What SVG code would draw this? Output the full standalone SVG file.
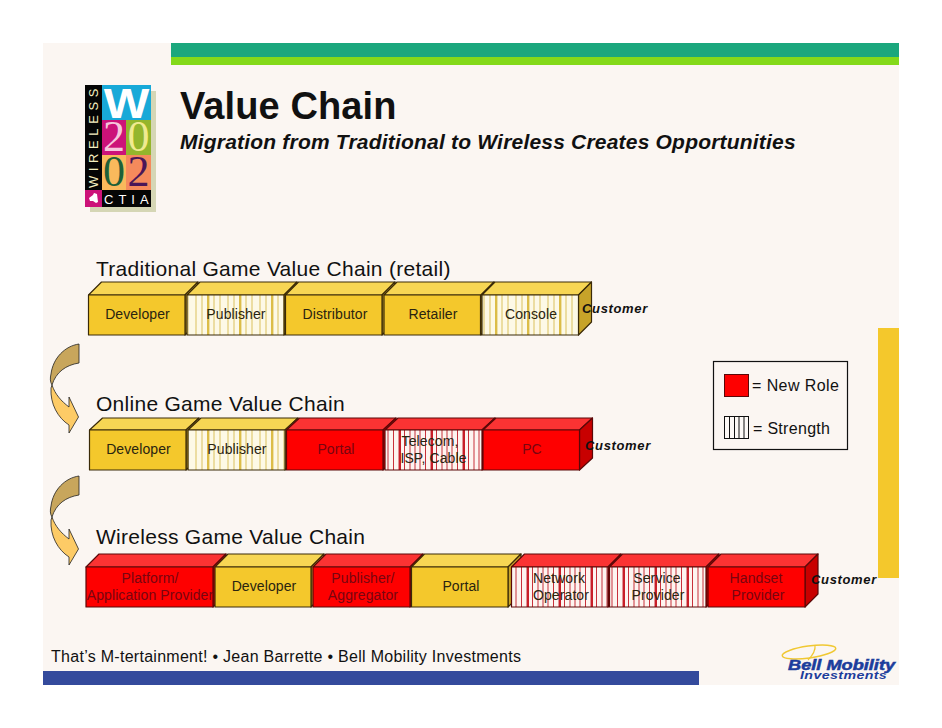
<svg xmlns="http://www.w3.org/2000/svg" width="942" height="728" viewBox="0 0 942 728">
<style>
text{font-family:"Liberation Sans",Arial,sans-serif;fill:#111}
.h{font-size:21px;letter-spacing:.28px}
.l{font-size:14px;text-anchor:middle;letter-spacing:.1px;fill:#2a2410}
.red{fill:#780510}
.c{font-size:13px;font-weight:bold;font-style:italic;letter-spacing:.65px}
.edge{stroke:#3a2a08;stroke-width:1.2;stroke-linejoin:round}
.re{stroke:#5a0808;stroke-width:1.2;stroke-linejoin:round}
.yf{fill:#f4c82c}.yt{fill:#f7d654}.ys{fill:#c7a329}
.rf{fill:#fe0000}.rt{fill:#fb3333}.rs{fill:#c80000}
.ysf{fill:url(#ystripe)}.rsf{fill:url(#rstripe)}
.arrowD{fill:#c8a65c;stroke:#222;stroke-width:.8}
.arrowL{fill:#fdcb66;stroke:#222;stroke-width:.8}
.cell{font-family:"Liberation Serif",serif;font-size:44px}
</style>
<defs>
<pattern id="ystripe" width="32" height="40" patternUnits="userSpaceOnUse" x="2">
<rect width="32" height="40" fill="#fdf9e6"/>
<path d="M2 0V40M8 0V40M14 0V40M20 0V40M26 0V40" stroke="#dcc25c" stroke-width="1"/>
<rect x="13" width="2.4" height="40" fill="#dcbd48"/>
</pattern>
<pattern id="rstripe" width="32" height="40" patternUnits="userSpaceOnUse" x="2">
<rect width="32" height="40" fill="#fdf4f0"/>
<path d="M2 0V40M7.500 0V40M13 0V40M18.500 0V40M24 0V40M29 0V40" stroke="#c8303a" stroke-width="1"/>
<rect x="13" width="2" height="40" fill="#c81e28"/>
</pattern>
<path id="arrow-dark" d="M79 344V363C66 365 56 372 52 385C50 382 50 378 51 374C53 358 65 346 79 344Z"/>
<path id="arrow-light" d="M52 385C55 394 61 401 69 407V397L78.500 417L69 433V425C58 418 50 404 51 388Z"/>
</defs>
<rect width="942" height="728" fill="#fff"/>
<rect x="43" y="43" width="856" height="642" fill="#fbf6f2"/>
<rect x="171" y="43" width="728" height="14" fill="#1ba77d"/>
<rect x="171" y="57" width="728" height="8" fill="#84d91a"/>
<rect x="878" y="328" width="21" height="250" fill="#f4c82c"/>
<rect x="43" y="671" width="656" height="14" fill="#344a9c"/>

<g id="logo">
<rect x="90" y="91" width="66" height="121" fill="#d5d6b5"/>
<rect x="85" y="85" width="17" height="122" fill="#050505"/>
<rect x="102" y="85" width="49" height="35" fill="#18a9d8"/>
<rect x="102" y="120" width="24" height="35" fill="#cc1279"/>
<rect x="126" y="120" width="25" height="35" fill="#94b52c"/>
<rect x="102" y="155" width="24" height="35" fill="#f9b95c"/>
<rect x="126" y="155" width="25" height="35" fill="#f58a5c"/>
<rect x="85" y="190" width="17" height="17" fill="#cc1279"/>
<rect x="102" y="190" width="49" height="17" fill="#050505"/>
<text transform="translate(126.500,118) scale(1.15,1)" text-anchor="middle" style="font-size:42px;font-weight:bold;fill:#fff">W</text>
<text class="cell" x="114" y="151" text-anchor="middle" style="fill:#f6c6dc">2</text>
<text class="cell" x="138.500" y="151" text-anchor="middle" style="fill:#f0ea90">0</text>
<text class="cell" x="114" y="186" text-anchor="middle" style="fill:#1d6038">0</text>
<text class="cell" x="138.500" y="186" text-anchor="middle" style="fill:#4a1658">2</text>
<text transform="translate(98,188) rotate(-90)" style="font-size:13px;letter-spacing:4.600px;fill:#f5efc0">WIRELESS</text>
<text x="104" y="204" style="font-size:13px;letter-spacing:5px;fill:#fff">CTIA</text>
<path d="M89 198l4-3 1-2 3 1 1 8-2 1-3-2h-3z" fill="#fff"/>
</g>

<g id="title">
<text x="180" y="119" style="font-size:38px;font-weight:bold;letter-spacing:.1px">Value Chain</text>
<text x="180" y="149" style="font-size:21px;font-weight:bold;font-style:italic;letter-spacing:.2px">Migration from Traditional to Wireless Creates Opportunities</text>
</g>

<text class="h" x="96" y="276">Traditional Game Value Chain (retail)</text>
<text class="h" x="96" y="411">Online Game Value Chain</text>
<text class="h" x="96" y="544">Wireless Game Value Chain</text>

<g id="connectors">
<use href="#arrow-dark" class="arrowD"/><use href="#arrow-light" class="arrowL"/>
<g transform="translate(0,132)"><use href="#arrow-dark" class="arrowD"/><use href="#arrow-light" class="arrowL"/></g>
</g>

<g id="chain-traditional">
<g id="t-developer"><path class="yt edge" d="M88.500 295L101.500 282H198L185 295Z"/><path class="ys edge" d="M185 295L198 282V322L185 335Z"/><rect class="yf edge" x="88.500" y="295" width="96.500" height="40"/><text class="l" x="137.500" y="319">Developer</text></g>
<g id="t-publisher"><path class="yt edge" d="M187 295L200 282H297L284 295Z"/><path class="ys edge" d="M284 295L297 282V322L284 335Z"/><rect class="ysf edge" x="187" y="295" width="97" height="40"/><text class="l" x="236" y="319">Publisher</text></g>
<g id="t-distributor"><path class="yt edge" d="M285.500 295L298.500 282H395L382 295Z"/><path class="ys edge" d="M382 295L395 282V322L382 335Z"/><rect class="yf edge" x="285.500" y="295" width="96.500" height="40"/><text class="l" x="335" y="319">Distributor</text></g>
<g id="t-retailer"><path class="yt edge" d="M384 295L397 282H494L481 295Z"/><path class="ys edge" d="M481 295L494 282V322L481 335Z"/><rect class="yf edge" x="384" y="295" width="96.500" height="40"/><text class="l" x="433" y="319">Retailer</text></g>
<g id="t-console"><path class="yt edge" d="M482 295L495 282H591.500L578.500 295Z"/><path class="ys edge" d="M578.500 295L591.500 282V322L578.500 335Z"/><rect class="ysf edge" x="482" y="295" width="96.500" height="40"/><text class="l" x="531" y="319">Console</text></g>
<text class="c" x="582" y="313">Customer</text>
</g>

<g id="chain-online">
<g id="o-developer"><path class="yt edge" d="M89.500 430L102.500 418H199L186 430Z"/><path class="ys edge" d="M186 430L199 418V458L186 470Z"/><rect class="yf edge" x="89.500" y="430" width="96.500" height="40"/><text class="l" x="138.500" y="454">Developer</text></g>
<g id="o-publisher"><path class="yt edge" d="M188 430L201 418H298L285 430Z"/><path class="ys edge" d="M285 430L298 418V458L285 470Z"/><rect class="ysf edge" x="188" y="430" width="97" height="40"/><text class="l" x="237" y="454">Publisher</text></g>
<g id="o-portal"><path class="rt re" d="M286.500 430L299.500 418H396L383 430Z"/><path class="rs re" d="M383 430L396 418V458L383 470Z"/><rect class="rf re" x="286.500" y="430" width="96.500" height="40"/><text class="l red" x="336" y="454">Portal</text></g>
<g id="o-telecom"><path class="rt re" d="M385 430L398 418H495L482 430Z"/><path class="rs re" d="M482 430L495 418V458L482 470Z"/><rect class="rsf re" x="385" y="430" width="97" height="40"/><text class="l" x="430" y="446">Telecom,</text><text class="l" x="433.500" y="463">ISP, Cable</text></g>
<g id="o-pc"><path class="rt re" d="M483 430L496 418H592.500L579.500 430Z"/><path class="rs re" d="M579.500 430L592.500 418V458L579.500 470Z"/><rect class="rf re" x="483" y="430" width="96.500" height="40"/><text class="l red" x="532" y="454">PC</text></g>
<text class="c" x="585" y="450">Customer</text>
</g>

<g id="chain-wireless">
<g id="w-platform"><path class="rt re" d="M86 567L99 554H226L213 567Z"/><path class="rs re" d="M213 567L226 554V594L213 607Z"/><rect class="rf re" x="86" y="567" width="127" height="40"/><text class="l red" x="150" y="583">Platform/</text><text class="l red" x="150" y="600">Application Provider</text></g>
<g id="w-developer"><path class="yt edge" d="M215 567L228 554H324L311 567Z"/><path class="ys edge" d="M311 567L324 554V594L311 607Z"/><rect class="yf edge" x="215" y="567" width="96" height="40"/><text class="l" x="264" y="591">Developer</text></g>
<g id="w-publisher"><path class="rt re" d="M313 567L326 554H423L410 567Z"/><path class="rs re" d="M410 567L423 554V594L410 607Z"/><rect class="rf re" x="313" y="567" width="97" height="40"/><text class="l red" x="363" y="583">Publisher/</text><text class="l red" x="363" y="600">Aggregator</text></g>
<g id="w-portal"><path class="yt edge" d="M411.500 567L424.500 554H521L508 567Z"/><path class="ys edge" d="M508 567L521 554V594L508 607Z"/><rect class="yf edge" x="411.500" y="567" width="96.500" height="40"/><text class="l" x="461" y="591">Portal</text></g>
<g id="w-network"><path class="rt re" d="M511.500 567L524.500 554H621L608 567Z"/><path class="rs re" d="M608 567L621 554V594L608 607Z"/><rect class="rsf re" x="511.500" y="567" width="96.500" height="40"/><text class="l" x="559" y="583">Network</text><text class="l" x="561" y="600">Operator</text></g>
<g id="w-service"><path class="rt re" d="M609.500 567L622.500 554H719L706 567Z"/><path class="rs re" d="M706 567L719 554V594L706 607Z"/><rect class="rsf re" x="609.500" y="567" width="96.500" height="40"/><text class="l" x="657" y="583">Service</text><text class="l" x="658" y="600">Provider</text></g>
<g id="w-handset"><path class="rt re" d="M708 567L721 554H818L805 567Z"/><path class="rs re" d="M805 567L818 554V594L805 607Z"/><rect class="rf re" x="708" y="567" width="97" height="40"/><text class="l red" x="756" y="583">Handset</text><text class="l red" x="758" y="600">Provider</text></g>
<text class="c" x="811" y="584">Customer</text>
</g>

<g id="legend">
<rect x="713.500" y="361.500" width="134" height="88" fill="none" stroke="#111" stroke-width="1.200"/>
<rect x="724.500" y="374.500" width="24" height="22" fill="#fe0000" stroke="#5a0808"/>
<text x="752" y="391" style="font-size:16px;letter-spacing:.42px">= New Role</text>
<rect x="724.500" y="416.500" width="24" height="22" fill="#fdf9f6" stroke="#111"/>
<path d="M729.500 416.500V438.500M734.500 416.500V438.500M739 416.500V438.500M744 416.500V438.500" stroke="#111"/>
<text x="753" y="434" style="font-size:16px;letter-spacing:.3px">= Strength</text>
</g>

<text x="51" y="662" style="font-size:16px;letter-spacing:.28px">That’s M-tertainment! • Jean Barrette • Bell Mobility Investments</text>

<g id="bell-logo">
<ellipse cx="809" cy="652" rx="27" ry="6" fill="none" stroke="#f0c832" stroke-width="1.500" transform="rotate(-8 809 652)"/>
<path d="M808 660Q816 652 815 645" fill="none" stroke="#f0c832" stroke-width="1.200"/>
<text transform="translate(788,670) scale(1.3,1)" style="font-size:14px;font-weight:bold;font-style:italic;fill:#1c3d9c;stroke:#1c3d9c;stroke-width:.5">Bell Mobility</text>
<text transform="translate(800,679) scale(1.35,1)" style="font-size:10.500px;font-weight:bold;font-style:italic;fill:#1c3d9c;letter-spacing:.3px">Investments</text>
</g>
</svg>
